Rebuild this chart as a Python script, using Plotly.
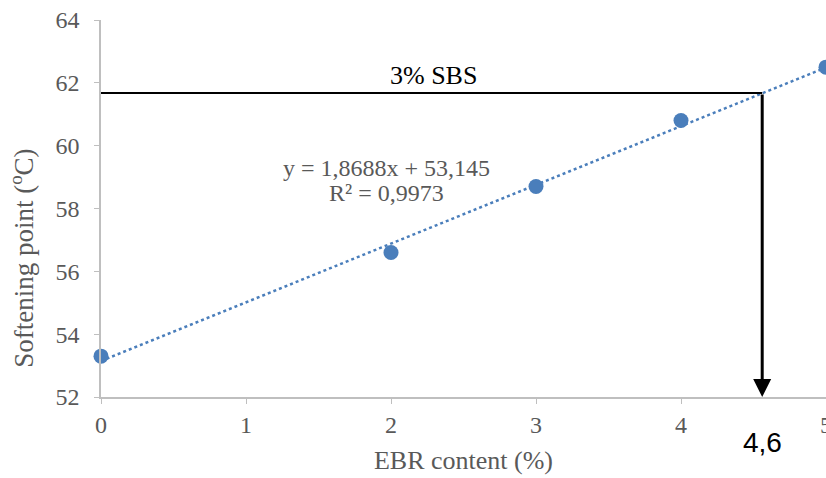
import plotly.graph_objects as go

ebr = [0, 2, 3, 4, 5]
soft = [53.3, 56.6, 58.7, 60.8, 62.5]
slope, intercept = 1.8688, 53.145
trend_x = [0, 5]
trend_y = [intercept + slope * x for x in trend_x]
target_y = 61.68
target_x = 4.56
x_ticks = [0, 1, 2, 3, 4, 5]
y_ticks = [52, 54, 56, 58, 60, 62, 64]

blue = "#4A7EBB"
gray_txt = "#595959"
axis_col = "#BFBFBF"
serif = "Liberation Serif, Times New Roman, serif"

fig = go.Figure()
fig.add_trace(go.Scatter(x=trend_x, y=trend_y, mode="lines",
                         line=dict(color=blue, width=2.5, dash="dot"),
                         showlegend=False, hoverinfo="skip"))
fig.add_trace(go.Scatter(x=ebr, y=soft, mode="markers",
                         marker=dict(color=blue, size=15),
                         cliponaxis=False, showlegend=False))

# horizontal reference line
fig.add_shape(type="line", xref="x", yref="y", x0=-0.07, x1=target_x,
              y0=target_y, y1=target_y, line=dict(color="black", width=2))
# vertical arrow
fig.add_annotation(x=target_x, y=52, ax=target_x, ay=target_y,
                   xref="x", yref="y", axref="x", ayref="y",
                   showarrow=True, arrowhead=2, arrowsize=1.2, arrowwidth=3,
                   arrowcolor="black", text="")

fig.add_annotation(x=2.29, y=target_y, yshift=1, xref="x", yref="y", yanchor="bottom",
                   text="3% SBS", showarrow=False,
                   font=dict(family=serif, size=26, color="black"))
fig.add_annotation(x=1.97, y=59.3, xref="x", yref="y", yanchor="middle",
                   text="y = 1,8688x + 53,145", showarrow=False,
                   font=dict(family=serif, size=24, color=gray_txt))
fig.add_annotation(x=1.97, y=58.5, xref="x", yref="y", yanchor="middle",
                   text="R² = 0,9973", showarrow=False,
                   font=dict(family=serif, size=24, color=gray_txt))
fig.add_annotation(x=target_x, y=0, xref="x", yref="paper", yanchor="top", yshift=-28,
                   text="4,6", showarrow=False,
                   font=dict(family="Liberation Sans, Arial, sans-serif", size=28, color="black"))
# y axis title
fig.add_annotation(x=-0.109, y=0.369, xref="paper", yref="paper",
                   xanchor="center", yanchor="middle", textangle=-90,
                   text="Softening point (<sup>o</sup>C)", showarrow=False,
                   font=dict(family=serif, size=27, color=gray_txt))

fig.update_xaxes(range=[0, 5], tickvals=x_ticks, showgrid=False, zeroline=False,
                 showline=True, linecolor=axis_col, linewidth=1.5,
                 ticks="outside", ticklen=5, tickcolor=axis_col,
                 ticklabeloverflow="allow", automargin=False,
                 tickfont=dict(family=serif, size=24, color=gray_txt),
                 title=dict(text="EBR content (%)", standoff=14,
                            font=dict(family=serif, size=26, color=gray_txt)))
fig.update_yaxes(range=[52, 64], tickvals=y_ticks, showgrid=False, zeroline=False,
                 showline=True, linecolor=axis_col, linewidth=1.5,
                 ticks="outside", ticklen=5, tickcolor=axis_col,
                 ticklabelstandoff=10, automargin=False,
                 tickfont=dict(family=serif, size=24, color=gray_txt))

fig.update_layout(width=826, height=478, margin=dict(l=101, r=0, t=20, b=81),
                  plot_bgcolor="white", paper_bgcolor="white")
fig.write_html("out.html")
